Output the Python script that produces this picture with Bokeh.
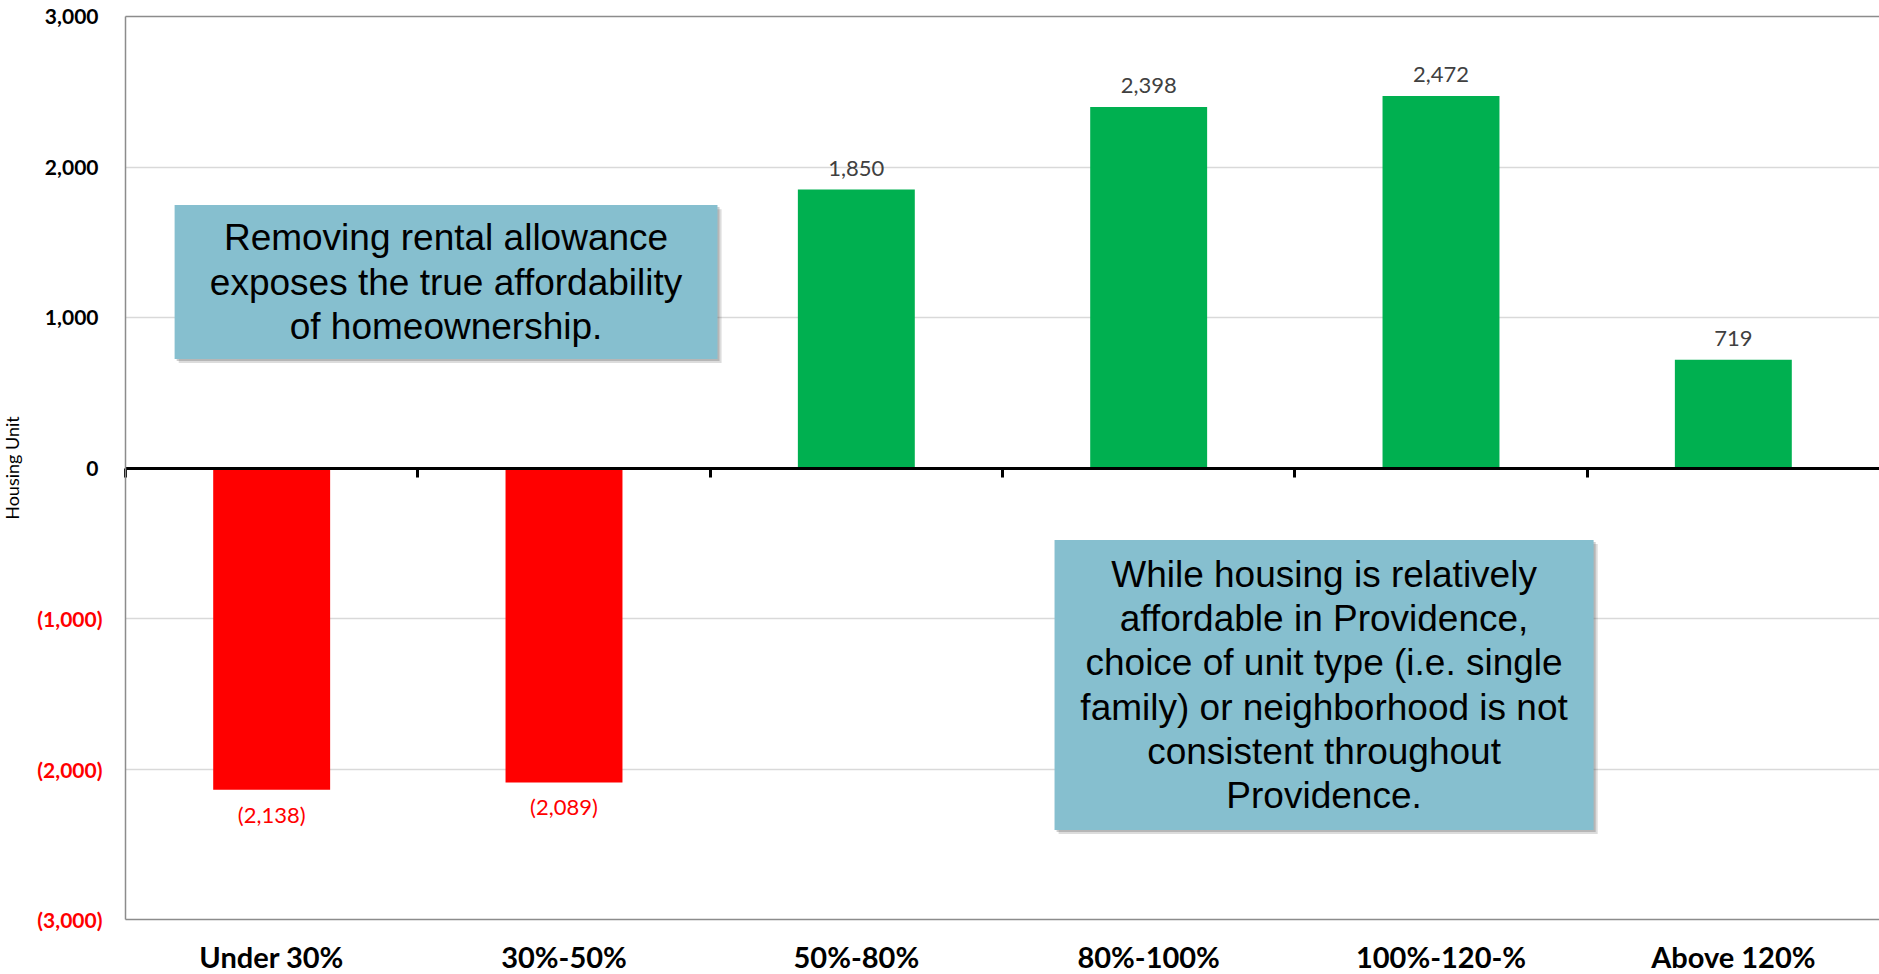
from bokeh.plotting import figure
from bokeh.models import Range1d, LinearAxis, FixedTicker, Grid, ColumnDataSource
from bokeh.core.properties import value
from bokeh.embed import file_html
from bokeh.resources import INLINE

# ---- data ----
categories = ["Under 30%", "30%-50%", "50%-80%", "80%-100%", "100%-120-%", "Above 120%"]
housing_units = [-2138, -2089, 1850, 2398, 2472, 719]
value_labels = ["(2,138)", "(2,089)", "1,850", "2,398", "2,472", "719"]
y_ticks = [-3000, -2000, -1000, 0, 1000, 2000, 3000]
y_tick_labels = ["(3,000)", "(2,000)", "(1,000)", "0", "1,000", "2,000", "3,000"]
grid_values = [-2000, -1000, 1000, 2000]
y_axis_title = "Housing Unit"
note_left = "Removing rental allowance\nexposes the true affordability\nof homeownership."
note_right = ("While housing is relatively\naffordable in Providence,\nchoice of unit type (i.e. single\n"
              "family) or neighborhood is not\nconsistent throughout\nProvidence.")

GREEN = "#00B050"
RED = "#FF0000"
BOX = "#86BFCF"
FRAME = "#8c8c8c"
FONT = "Lato"

# ---- layout constants (pixels) ----
W, H = 1879, 974
TOP, BOTTOM, LEFT = 16, 55, 125
n = len(categories)
cat_px = (W - LEFT) / n
per_px = (y_ticks[-1] - y_ticks[0]) / (H - TOP - BOTTOM)
ymin, ymax = y_ticks[0], y_ticks[-1]

xs = [i + 0.5 for i in range(n)]
colors = [GREEN if v >= 0 else RED for v in housing_units]

p = figure(width=W, height=H, output_backend="svg", toolbar_location=None,
           x_range=Range1d(-LEFT / cat_px, n),
           y_range=Range1d(ymin - BOTTOM * per_px, ymax + TOP * per_px),
           x_axis_location=None, y_axis_location=None, min_border=0)
p.center = [c for c in p.center if not isinstance(c, Grid)]
p.outline_line_color = None
p.background_fill_color = "white"
p.border_fill_color = "white"

# gridlines and top frame line
p.add_layout(Grid(dimension=1, ticker=FixedTicker(ticks=grid_values), cross_bounds=(0, n),
                  grid_line_color="#d9d9d9", grid_line_width=1.5))
p.add_layout(Grid(dimension=1, ticker=FixedTicker(ticks=[ymax]), cross_bounds=(0, n),
                  grid_line_color=FRAME, grid_line_width=1.5))

# ---- bars ----
src = ColumnDataSource(dict(x=xs, top=housing_units, color=colors, label=value_labels))
p.vbar(x="x", top="top", bottom=0, width=0.4, fill_color="color", line_color=None, source=src)

pos = [i for i, v in enumerate(housing_units) if v >= 0]
neg = [i for i, v in enumerate(housing_units) if v < 0]
pos_src = ColumnDataSource(dict(x=[xs[i] for i in pos], y=[housing_units[i] for i in pos],
                                t=[value_labels[i] for i in pos]))
neg_src = ColumnDataSource(dict(x=[xs[i] for i in neg], y=[housing_units[i] for i in neg],
                                t=[value_labels[i] for i in neg]))
p.text(x="x", y="y", text="t", source=pos_src, text_align="center", text_baseline="bottom",
       y_offset=-14, text_font=value(FONT), text_font_size="22px", text_color="#404040")
p.text(x="x", y="y", text="t", source=neg_src, text_align="center", text_baseline="top",
       y_offset=11, text_font=value(FONT), text_font_size="22px", text_color=RED)

# ---- callout boxes (layout positions) ----
def callout(l, r, t, b, txt):
    dx, dy = 0.014, 27
    p.quad(left=l + dx, right=r + dx, top=t - dy, bottom=b - dy, fill_color="#606060",
           fill_alpha=0.22, line_color=None)
    p.quad(left=l + dx / 2, right=r + dx / 2, top=t - dy / 2, bottom=b - dy / 2,
           fill_color="#606060", fill_alpha=0.3, line_color=None)
    p.quad(left=l, right=r, top=t, bottom=b, fill_color=BOX, line_color=None)
    p.text(x=[(l + r) / 2], y=[(t + b) / 2], text=[txt], text_align="center",
           text_baseline="middle", text_font=value("Liberation Sans"), text_font_size="37px",
           text_line_height=1.08, text_color="black")

callout(0.168, 2.025, 1747, 724, note_left)
callout(3.178, 5.022, -478, -2405, note_right)

# ---- zero line axis with boundary ticks ----
zero_axis = LinearAxis(fixed_location=0, ticker=FixedTicker(ticks=list(range(n))), bounds=(0, n),
                       major_label_overrides={i: "" for i in range(n)},
                       axis_line_color="black", axis_line_width=3,
                       major_tick_line_color="black", major_tick_line_width=3,
                       major_tick_in=0, major_tick_out=9, minor_tick_line_color=None)
p.add_layout(zero_axis, "below")

# ---- category axis along the bottom frame line ----
cat_axis = LinearAxis(fixed_location=ymin, ticker=FixedTicker(ticks=xs), bounds=(0, n),
                      major_label_overrides={x: c for x, c in zip(xs, categories)},
                      axis_line_color=FRAME, axis_line_width=1.5,
                      major_tick_line_color=None, minor_tick_line_color=None,
                      major_tick_in=0, major_tick_out=0,
                      major_label_standoff=19, major_label_text_font=FONT,
                      major_label_text_font_style="bold", major_label_text_font_size="29px",
                      major_label_text_color="black")
p.add_layout(cat_axis, "below")

# ---- y axes: negative (red, draws the left frame line) and positive (black) ----
pos_t = [t for t in y_ticks if t >= 0]
pos_l = [l for t, l in zip(y_ticks, y_tick_labels) if t >= 0]
neg_t = [t for t in y_ticks if t < 0]
neg_l = [l for t, l in zip(y_ticks, y_tick_labels) if t < 0]

yax_neg = LinearAxis(fixed_location=0, ticker=FixedTicker(ticks=neg_t), bounds=(ymin, ymax),
                     major_label_overrides=dict(zip(neg_t, neg_l)),
                     axis_line_color=FRAME, axis_line_width=1.5,
                     major_tick_line_color=None, minor_tick_line_color=None,
                     major_tick_in=0, major_tick_out=0,
                     major_label_standoff=23, major_label_text_font=FONT,
                     major_label_text_font_style="bold", major_label_text_font_size="21px",
                     major_label_text_color=RED)
p.add_layout(yax_neg, "left")

yax_pos = LinearAxis(fixed_location=0, ticker=FixedTicker(ticks=pos_t), bounds=(ymin, ymax),
                     major_label_overrides=dict(zip(pos_t, pos_l)),
                     axis_line_color=None, major_tick_line_color=None, minor_tick_line_color=None,
                     major_tick_in=0, major_tick_out=0,
                     major_label_standoff=27, major_label_text_font=FONT,
                     major_label_text_font_style="bold", major_label_text_font_size="21px",
                     major_label_text_color="black",
                     axis_label=y_axis_title, axis_label_standoff=19,
                     axis_label_text_font=FONT, axis_label_text_font_style="normal",
                     axis_label_text_font_size="18px", axis_label_text_color="black")
p.add_layout(yax_pos, "left")

open("out.html", "w").write(file_html(p, INLINE))
